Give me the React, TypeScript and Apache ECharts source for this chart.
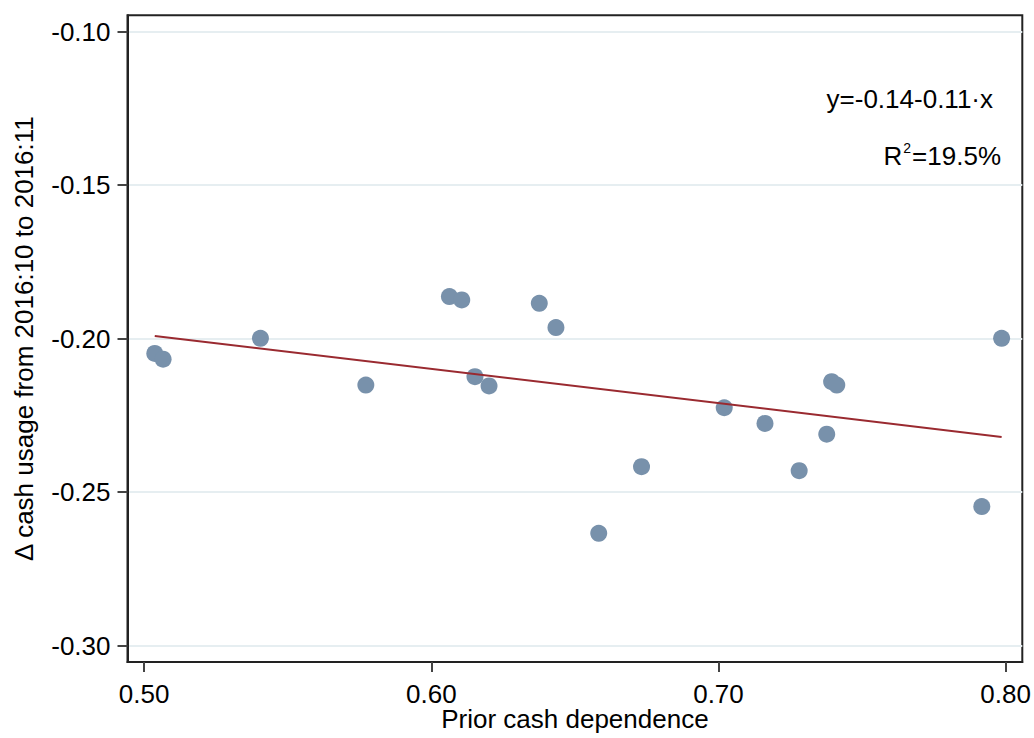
import React, { useEffect, useRef } from "react";
import * as echarts from "echarts";

const priorCash = [
  0.5037, 0.5066, 0.5405, 0.5772, 0.6063, 0.6106, 0.6152, 0.6201, 0.6376, 0.6434,
  0.6583, 0.6732, 0.702, 0.7162, 0.7281, 0.7377, 0.7394, 0.7412, 0.7917, 0.7986,
];
const deltaCash = [
  -0.2048, -0.2067, -0.1999, -0.2151, -0.1863, -0.1874, -0.2124, -0.2154, -0.1885, -0.1964,
  -0.2634, -0.2417, -0.2225, -0.2276, -0.243, -0.2311, -0.214, -0.2151, -0.2547, -0.1999,
];
const fitX = [0.5037, 0.7986];
const fitY = [-0.1991, -0.232];
const xTicks = [0.5, 0.6, 0.7, 0.8];
const yTicks = [-0.3, -0.25, -0.2, -0.15, -0.1];
const equationText = "y=-0.14-0.11·x";
const r2Text = "19.5%";
const xTitle = "Prior cash dependence";
const yTitle = "Δ cash usage from 2016:10 to 2016:11";

const FONT = "'Liberation Sans', Arial, sans-serif";
const FS = 26;

export default function App() {
  const ref = useRef<HTMLDivElement>(null);
  useEffect(() => {
    if (!ref.current) return;
    const chart = echarts.init(ref.current, undefined, { renderer: "svg" });
    const axisCommon = {
      axisLine: { show: true, onZero: false, lineStyle: { color: "#222", width: 2 } },
      axisTick: { show: true, length: 10, lineStyle: { color: "#444", width: 2 } },
      nameTextStyle: { fontFamily: FONT, fontSize: FS, color: "#000" },
      nameMoveOverlap: false,
    };
    chart.setOption({
      animation: false,
      backgroundColor: "#fff",
      grid: {
        left: 127.5,
        right: 11.7,
        top: 15.3,
        bottom: 76,
        containLabel: false,
        outerBoundsMode: "none",
        show: true,
        borderColor: "#222",
        borderWidth: 2,
        backgroundColor: "transparent",
      },
      xAxis: {
        type: "value",
        min: 0.4942,
        max: 0.8058,
        name: xTitle,
        nameLocation: "middle",
        nameGap: 44,
        ...axisCommon,
        axisTick: { ...axisCommon.axisTick, customValues: xTicks },
        axisLabel: {
          customValues: xTicks,
          formatter: (v: number) => v.toFixed(2),
          fontFamily: FONT,
          fontSize: FS,
          color: "#000",
          margin: 19,
        },
        splitLine: { show: false },
      },
      yAxis: {
        type: "value",
        min: -0.3053,
        max: -0.0947,
        name: yTitle,
        nameLocation: "middle",
        nameGap: 91,
        ...axisCommon,
        axisTick: { ...axisCommon.axisTick, customValues: yTicks },
        axisLabel: {
          customValues: yTicks,
          formatter: (v: number) => v.toFixed(2),
          fontFamily: FONT,
          fontSize: FS,
          color: "#000",
          margin: 17,
        },
        splitLine: { show: true, lineStyle: { color: "#e6eef1", width: 2 } },
      },
      series: [
        {
          type: "scatter",
          data: priorCash.map((x, i) => [x, deltaCash[i]]),
          symbol: "circle",
          symbolSize: 17,
          itemStyle: { color: "#7891ab", opacity: 1 },
          z: 3,
        },
        {
          type: "line",
          data: fitX.map((x, i) => [x, fitY[i]]),
          showSymbol: false,
          symbol: "none",
          lineStyle: { color: "#9a2a30", width: 2 },
          z: 4,
        },
      ],
      graphic: [
        {
          type: "text",
          x: 993,
          y: 99,
          style: {
            text: equationText,
            align: "right",
            verticalAlign: "middle",
            fontFamily: FONT,
            fontSize: FS,
            fill: "#000",
          },
        },
        {
          type: "text",
          x: 1001,
          y: 156,
          style: {
            text: "{r|R}{s|2}{r|=" + r2Text + "}",
            align: "right",
            verticalAlign: "middle",
            fontFamily: FONT,
            fontSize: FS,
            fill: "#000",
            rich: {
              r: { fontFamily: FONT, fontSize: FS, fill: "#000", lineHeight: 30 },
              s: {
                fontFamily: FONT,
                fontSize: 14,
                fill: "#000",
                verticalAlign: "top",
                lineHeight: 30,
                padding: [0, 1, 14, 1],
              },
            },
          },
        },
      ],
    });
    return () => chart.dispose();
  }, []);
  return (
    <div
      ref={ref}
      style={{ position: "fixed", left: 0, top: 0, width: 1034, height: 738 }}
    />
  );
}
